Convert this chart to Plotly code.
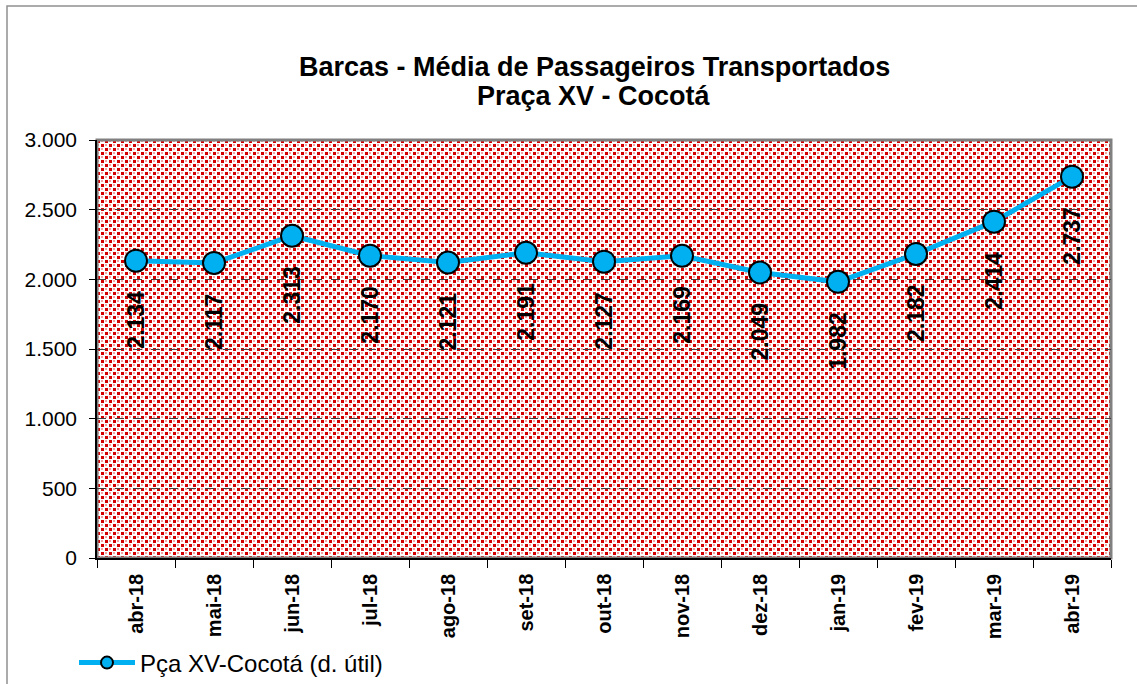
import base64
import plotly.graph_objects as go

categories = ["abr-18", "mai-18", "jun-18", "jul-18", "ago-18", "set-18", "out-18",
              "nov-18", "dez-18", "jan-19", "fev-19", "mar-19", "abr-19"]
values = [2134, 2117, 2313, 2170, 2121, 2191, 2127, 2169, 2049, 1982, 2182, 2414, 2737]
series_name = "Pça XV-Cocotá (d. útil)"
title_line1 = "Barcas - Média de Passageiros Transportados"
title_line2 = "Praça XV - Cocotá"

W, H = 1137, 684
L, R, T, B = 97, 26, 140, 126
PW, PH = W - L - R, H - T - B

BLUE = "#00B0F0"
FONT = "Liberation Sans, Arial, sans-serif"

svg = f'''<svg xmlns="http://www.w3.org/2000/svg" width="{PW}" height="{PH}" viewBox="0 0 {PW} {PH}" preserveAspectRatio="none" shape-rendering="crispEdges">
<defs><pattern id="p" x="0" y="0" width="8" height="8" patternUnits="userSpaceOnUse">
<rect width="8" height="8" fill="#ffffff"/>
<rect x="0" y="0" width="3" height="3" fill="#d40000"/>
<rect x="4" y="4" width="3" height="3" fill="#d40000"/>
<rect x="4" y="0" width="2" height="2" fill="#f2a4a4"/>
<rect x="0" y="4" width="2" height="2" fill="#f2a4a4"/>
</pattern></defs>
<rect width="{PW}" height="{PH}" fill="url(#p)"/>
</svg>'''
src = "data:image/svg+xml;base64," + base64.b64encode(svg.encode()).decode()

fig = go.Figure()
fig.add_trace(go.Scatter(
    x=categories, y=values, mode="lines+markers", name=series_name,
    line=dict(color=BLUE, width=5),
    marker=dict(size=22, color=BLUE, line=dict(color="black", width=2)),
    showlegend=False,
))
# legend entry
fig.add_trace(go.Scatter(
    x=[None], y=[None], mode="lines+markers", name=series_name,
    line=dict(color=BLUE, width=5),
    marker=dict(size=12, color=BLUE, line=dict(color="black", width=2)),
))

for c, v in zip(categories, values):
    lbl = f"{v:,}".replace(",", ".")
    fig.add_annotation(x=c, y=v, text=lbl, showarrow=False, textangle=-90,
                       xanchor="center", yanchor="middle", yshift=-59,
                       font=dict(family=FONT, size=23, color="black", weight="bold"))

fig.add_annotation(xref="paper", yref="paper", x=(594 - L) / PW, y=(H - B - 67) / PH,
                   text=title_line1, showarrow=False, xanchor="center", yanchor="middle",
                   font=dict(family=FONT, size=27, color="black", weight="bold"))
fig.add_annotation(xref="paper", yref="paper", x=(594 - L) / PW, y=(H - B - 96) / PH,
                   text=title_line2, showarrow=False, xanchor="center", yanchor="middle",
                   font=dict(family=FONT, size=27, color="black", weight="bold"))

# plot area border (gray)
fig.add_shape(type="rect", xref="paper", yref="paper", x0=0, x1=1, y0=0, y1=1,
              line=dict(color="#808080", width=3), layer="below")
# outer chart border
fig.add_shape(type="rect", xref="paper", yref="paper",
              x0=(7 - L) / PW, x1=(W + 20 - L) / PW,
              y0=(H - B - (H + 20)) / PH, y1=(H - B - 6) / PH,
              line=dict(color="#909090", width=1.5), layer="below")

fig.add_layout_image(dict(source=src, xref="paper", yref="paper", x=0, y=1,
                          sizex=1, sizey=1, xanchor="left", yanchor="top",
                          sizing="stretch", layer="below"))

fig.update_layout(
    width=W, height=H,
    margin=dict(l=L, r=R, t=T, b=B, autoexpand=False),
    paper_bgcolor="white", plot_bgcolor="white",
    separators=",.",
    font=dict(family=FONT, color="black"),
    legend=dict(x=74 / W, y=(H - 663) / H, xref="container", yref="container",
                xanchor="left", yanchor="middle",
                orientation="h", font=dict(family=FONT, size=24, color="black"),
                bgcolor="rgba(0,0,0,0)", itemwidth=56),
    xaxis=dict(type="category", range=[-0.5, len(categories) - 0.5],
               tickson="boundaries", ticks="outside", ticklen=8, tickcolor="black",
               tickwidth=1, showline=True, linecolor="black", linewidth=1.5,
               showgrid=False, tickangle=-90, ticklabelstandoff=6,
               tickfont=dict(family=FONT, size=20, color="black", weight="bold")),
    yaxis=dict(range=[0, 3000], dtick=500, tickformat=",d", ticks="outside",
               ticklen=6, tickcolor="black", showline=True, linecolor="black",
               linewidth=1.5, showgrid=True, gridcolor="#404040", griddash="dash",
               gridwidth=1, zeroline=False, ticklabelstandoff=8,
               tickfont=dict(family=FONT, size=21, color="black")),
)

fig.write_html("out.html", config={"displayModeBar": False},
               post_script="document.body.style.margin='0';document.body.style.overflow='hidden';")
